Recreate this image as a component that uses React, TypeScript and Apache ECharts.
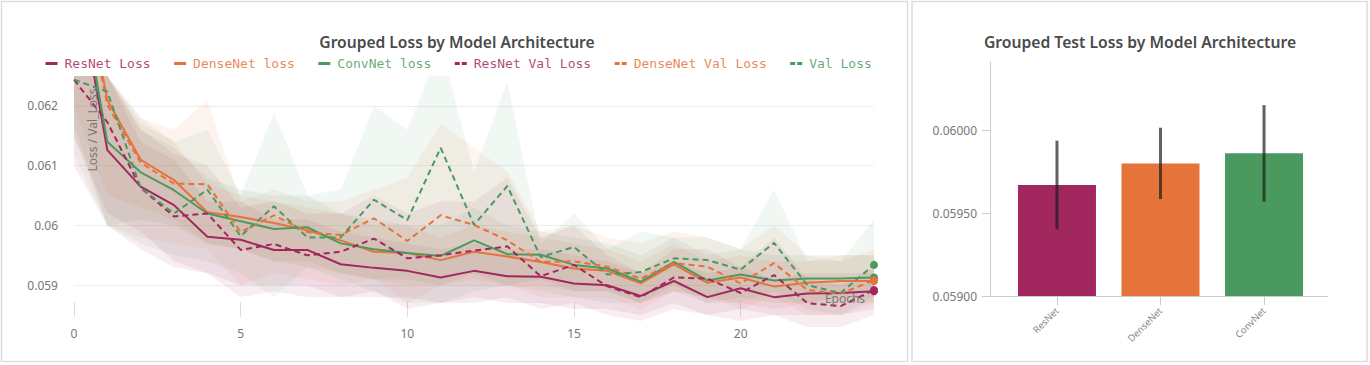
import React, { useEffect, useRef } from "react";
import * as echarts from "echarts";

const epochs = Array.from({ length: 25 }, (_, i) => String(i));

// line series (mean values)
const resnetLoss = [0.0644, 0.06126, 0.06065, 0.06034, 0.05981, 0.05976, 0.05959, 0.05959, 0.05935, 0.05929, 0.05924, 0.05913, 0.05924, 0.05915, 0.05914, 0.05903, 0.059, 0.05882, 0.05907, 0.0588, 0.05895, 0.0588, 0.05886, 0.05887, 0.0589];
const densenetLoss = [0.065, 0.0621, 0.0611, 0.06076, 0.06022, 0.06014, 0.06004, 0.05992, 0.05975, 0.05956, 0.05954, 0.05942, 0.05956, 0.05948, 0.05939, 0.05928, 0.05924, 0.05903, 0.05935, 0.05904, 0.05913, 0.05898, 0.05904, 0.05907, 0.05907];
const convnetLoss = [0.0646, 0.0614, 0.06089, 0.06059, 0.0602, 0.06007, 0.05994, 0.05997, 0.0597, 0.0596, 0.05954, 0.05949, 0.05975, 0.05952, 0.05951, 0.05934, 0.05928, 0.05906, 0.05939, 0.05908, 0.05918, 0.05908, 0.05911, 0.05911, 0.05913];
const resnetVal = [0.06244, 0.06173, 0.06063, 0.06015, 0.0602, 0.05959, 0.05969, 0.0595, 0.05956, 0.05978, 0.05945, 0.0595, 0.05958, 0.05965, 0.05915, 0.05934, 0.05898, 0.0588, 0.05913, 0.05911, 0.05887, 0.05917, 0.0587, 0.05865, 0.05892];
const densenetVal = [0.0648, 0.06202, 0.06105, 0.0607, 0.06069, 0.05989, 0.06017, 0.05989, 0.05984, 0.06012, 0.05974, 0.06017, 0.06001, 0.05975, 0.05939, 0.0594, 0.05931, 0.05911, 0.05937, 0.05931, 0.05903, 0.05937, 0.05892, 0.05886, 0.05908];
const convnetVal = [0.06244, 0.06224, 0.06063, 0.0602, 0.0606, 0.05982, 0.06032, 0.0598, 0.0598, 0.06043, 0.06009, 0.0613, 0.06001, 0.06066, 0.05947, 0.05964, 0.05918, 0.05922, 0.05945, 0.05942, 0.05926, 0.05971, 0.059, 0.05887, 0.05934];

// shaded min / max bands
const resnetLossLo = [0.0615, 0.0602, 0.0599, 0.0594, 0.0592, 0.059, 0.059, 0.059, 0.0588, 0.0588, 0.0588, 0.0587, 0.0588, 0.0587, 0.0587, 0.0586, 0.0586, 0.0585, 0.0587, 0.0585, 0.0586, 0.0585, 0.0585, 0.0585, 0.0586];
const resnetLossHi = [0.0625, 0.0625, 0.0614, 0.0611, 0.0604, 0.0604, 0.0601, 0.0601, 0.0599, 0.0598, 0.0597, 0.0596, 0.0597, 0.0596, 0.0596, 0.0595, 0.0594, 0.0592, 0.0594, 0.0592, 0.0593, 0.0591, 0.0592, 0.0592, 0.0592];
const densenetLossLo = [0.062, 0.0605, 0.0603, 0.0601, 0.0597, 0.0596, 0.0594, 0.0593, 0.0592, 0.0591, 0.059, 0.059, 0.0591, 0.059, 0.059, 0.0589, 0.0589, 0.0587, 0.0589, 0.0587, 0.0587, 0.0586, 0.0587, 0.0587, 0.0587];
const densenetLossHi = [0.0625, 0.0625, 0.0617, 0.0614, 0.0607, 0.0605, 0.0604, 0.0603, 0.0602, 0.06, 0.06, 0.0598, 0.06, 0.0599, 0.0598, 0.0597, 0.0596, 0.0594, 0.0597, 0.0594, 0.0595, 0.0594, 0.0594, 0.0595, 0.0595];
const convnetLossLo = [0.0617, 0.06, 0.0601, 0.06, 0.0597, 0.0596, 0.0594, 0.0594, 0.0592, 0.0591, 0.0591, 0.059, 0.0592, 0.059, 0.0591, 0.0589, 0.0589, 0.0587, 0.059, 0.0587, 0.0588, 0.0587, 0.0587, 0.0588, 0.0588];
const convnetLossHi = [0.0625, 0.0625, 0.0616, 0.0613, 0.0608, 0.0606, 0.0605, 0.0605, 0.0602, 0.0601, 0.06, 0.06, 0.0603, 0.06, 0.0599, 0.0598, 0.0597, 0.0595, 0.0598, 0.0595, 0.0596, 0.0595, 0.0595, 0.0595, 0.0595];
const resnetValLo = [0.061, 0.06, 0.0596, 0.0593, 0.0592, 0.0588, 0.0589, 0.0588, 0.0588, 0.0589, 0.0586, 0.0587, 0.0587, 0.0588, 0.0586, 0.0587, 0.0585, 0.0584, 0.0586, 0.0585, 0.0584, 0.0585, 0.0583, 0.0583, 0.0585];
const resnetValHi = [0.0625, 0.0625, 0.0616, 0.0612, 0.061, 0.0603, 0.0604, 0.0602, 0.0602, 0.0605, 0.0602, 0.0604, 0.0604, 0.0608, 0.0598, 0.06, 0.0595, 0.0592, 0.0596, 0.0596, 0.0593, 0.0598, 0.0591, 0.059, 0.0593];
const densenetValLo = [0.0615, 0.06, 0.0598, 0.0597, 0.0596, 0.059, 0.0592, 0.0591, 0.059, 0.0591, 0.0587, 0.059, 0.059, 0.059, 0.0588, 0.0588, 0.0588, 0.0586, 0.0589, 0.0588, 0.0586, 0.0588, 0.0585, 0.0585, 0.0587];
const densenetValHi = [0.0625, 0.0625, 0.0618, 0.0616, 0.0621, 0.0604, 0.0606, 0.0604, 0.0604, 0.0606, 0.0608, 0.0617, 0.0613, 0.0609, 0.0599, 0.06, 0.0598, 0.0597, 0.0599, 0.0598, 0.0596, 0.06, 0.0595, 0.0594, 0.0596];
const convnetValLo = [0.0612, 0.06, 0.0597, 0.0595, 0.0594, 0.0592, 0.0588, 0.0593, 0.0591, 0.0589, 0.0587, 0.0587, 0.0589, 0.059, 0.0589, 0.0588, 0.0587, 0.0587, 0.0589, 0.0588, 0.0587, 0.0589, 0.0586, 0.0585, 0.0588];
const convnetValHi = [0.0625, 0.0625, 0.0618, 0.0614, 0.0616, 0.0605, 0.0619, 0.0605, 0.0606, 0.062, 0.0616, 0.063, 0.0609, 0.0624, 0.0597, 0.0602, 0.0596, 0.0599, 0.0598, 0.0598, 0.0596, 0.0606, 0.0594, 0.0594, 0.0601];

// right chart
const models = ["ResNet", "DenseNet", "ConvNet"];
const testLoss = [0.059669, 0.059799, 0.05986];
const testLossLo = [0.059402, 0.059584, 0.059568];
const testLossHi = [0.059936, 0.060014, 0.06015];

const yTicksLeft = [0.059, 0.06, 0.061, 0.062];
const yTicksRight = [0.059, 0.0595, 0.06];

const PURPLE = "#a2275f";
const ORANGE = "#e5733a";
const GREEN = "#4a9a5f";
const BAR_COLORS = [PURPLE, ORANGE, GREEN];

const lineDefs = [
  { name: "ResNet Loss", data: resnetLoss, lo: resnetLossLo, hi: resnetLossHi, color: PURPLE, dashed: false, band: "rgba(162,39,95,0.09)" },
  { name: "DenseNet loss", data: densenetLoss, lo: densenetLossLo, hi: densenetLossHi, color: ORANGE, dashed: false, band: "rgba(229,115,58,0.09)" },
  { name: "ConvNet loss", data: convnetLoss, lo: convnetLossLo, hi: convnetLossHi, color: GREEN, dashed: false, band: "rgba(74,154,95,0.09)" },
  { name: "ResNet Val Loss", data: resnetVal, lo: resnetValLo, hi: resnetValHi, color: PURPLE, dashed: true, band: "rgba(162,39,95,0.08)" },
  { name: "DenseNet Val Loss", data: densenetVal, lo: densenetValLo, hi: densenetValHi, color: ORANGE, dashed: true, band: "rgba(229,115,58,0.08)" },
  { name: "Val Loss", data: convnetVal, lo: convnetValLo, hi: convnetValHi, color: GREEN, dashed: true, band: "rgba(74,154,95,0.08)" },
];

export default function App() {
  const ref = useRef<HTMLDivElement>(null);
  useEffect(() => {
    document.body.style.margin = "0";
    const chart = echarts.init(ref.current!, null, { renderer: "svg" });

    const bandSeries: any[] = [];
    lineDefs.forEach((d, k) => {
      bandSeries.push({
        type: "line",
        name: "band_lo_" + k,
        data: d.lo,
        stack: "band" + k,
        symbol: "none",
        silent: true,
        lineStyle: { opacity: 0 },
        xAxisIndex: 0,
        yAxisIndex: 0,
        z: 1,
      });
      bandSeries.push({
        type: "line",
        name: "band_hi_" + k,
        data: d.hi.map((h, i) => h - d.lo[i]),
        stack: "band" + k,
        symbol: "none",
        silent: true,
        lineStyle: { opacity: 0 },
        areaStyle: { color: d.band, opacity: 1 },
        xAxisIndex: 0,
        yAxisIndex: 0,
        z: 1,
      });
    });

    const lineSeries = lineDefs.map((d) => ({
      type: "line",
      name: d.name,
      data: d.data,
      xAxisIndex: 0,
      yAxisIndex: 0,
      symbol: "circle",
      showAllSymbol: true,
      symbolSize: (_v: any, p: any) => (p.dataIndex === epochs.length - 1 ? 8 : 0),
      lineStyle: { color: d.color, width: 2, type: d.dashed ? [6, 4] : "solid" },
      itemStyle: { color: d.color },
      z: 5,
    }));

    const option: any = {
      animation: false,
      backgroundColor: "#fff",
      legend: {
        left: 44,
        top: 57,
        padding: 0,
        itemWidth: 12,
        itemHeight: 3,
        itemGap: 22,
        selectedMode: false,
        textStyle: { fontFamily: "DejaVu Sans Mono", fontSize: 13, padding: [0, 0, 0, 2] },
        data: lineDefs.map((d) => ({
          name: d.name,
          textStyle: { color: d.color, opacity: 0.85 },
          itemStyle: { opacity: 0 },
          lineStyle: { color: d.color, width: 3, type: d.dashed ? [5, 2] : "solid" },
        })),
      },
      grid: [
        { left: 74, right: 1370 - 874, top: 77, height: 253, containLabel: false },
        { left: 990, right: 1370 - 1328, top: 62, height: 234, containLabel: false },
      ],
      xAxis: [
        {
          type: "category",
          gridIndex: 0,
          data: epochs,
          boundaryGap: false,
          offset: -13,
          axisLine: { show: false },
          axisTick: { show: true, inside: true, length: 15, interval: 4, lineStyle: { color: "#ddd" } },
          axisLabel: { interval: 4, margin: 10, color: "#777", fontSize: 12, fontFamily: "Noto Sans" },
          splitLine: { show: false },
        },
        {
          type: "value",
          gridIndex: 1,
          min: -0.647,
          max: 2.618,
          axisLine: { show: true, onZero: false, lineStyle: { color: "#ccc" } },
          axisTick: { show: true, length: 9, customValues: [0, 1, 2], lineStyle: { color: "#ccc" } },
          axisLabel: {
            customValues: [0, 1, 2],
            formatter: (v: number) => models[Math.round(v)] ?? "",
            rotate: 45,
            fontSize: 9.5,
            color: "#888",
            margin: 13,
            fontFamily: "Noto Sans",
          },
          splitLine: { show: false },
        },
      ],
      yAxis: [
        {
          type: "value",
          gridIndex: 0,
          min: 0.05825,
          max: 0.062485,
          axisLine: { show: false, onZero: false },
          axisTick: { show: false, customValues: yTicksLeft },
          axisLabel: {
            customValues: yTicksLeft,
            formatter: (v: number) => String(+v.toFixed(4)),
            color: "#777",
            fontSize: 12,
            margin: 16,
            fontFamily: "Noto Sans",
          },
          splitLine: { show: true, lineStyle: { color: "#eee", width: 1 } },
        },
        {
          type: "value",
          gridIndex: 1,
          min: 0.059,
          max: 0.06041,
          axisLine: { show: true, onZero: false, lineStyle: { color: "#ccc" } },
          axisTick: { show: true, length: 8, customValues: yTicksRight, lineStyle: { color: "#ccc" } },
          axisLabel: {
            customValues: yTicksRight,
            formatter: (v: number) => v.toFixed(5),
            color: "#777",
            fontSize: 12,
            margin: 13,
            fontFamily: "Noto Sans",
          },
          splitLine: { show: false },
        },
      ],
      series: [
        ...bandSeries,
        ...lineSeries,
        {
          type: "bar",
          name: "test",
          xAxisIndex: 1,
          yAxisIndex: 1,
          barWidth: 78,
          data: models.map((m, i) => ({ value: [i, testLoss[i]], itemStyle: { color: BAR_COLORS[i] } })),
          z: 2,
        },
        {
          type: "custom",
          name: "err",
          xAxisIndex: 1,
          yAxisIndex: 1,
          encode: { x: 0, y: [1, 2] },
          data: models.map((m, i) => [i, testLossLo[i], testLossHi[i]]),
          renderItem: (_p: any, api: any) => {
            const x = api.value(0);
            const a = api.coord([x, api.value(1)]);
            const b = api.coord([x, api.value(2)]);
            return {
              type: "line",
              shape: { x1: a[0], y1: a[1], x2: b[0], y2: b[1] },
              style: { stroke: "rgba(30,30,30,0.7)", lineWidth: 3 },
            };
          },
          z: 3,
        },
      ],
      graphic: [
        { type: "rect", shape: { x: 1.5, y: 1.5, width: 906, height: 360 }, style: { fill: "none", stroke: "#ddd", lineWidth: 1.5 }, silent: true, z: -10 },
        { type: "rect", shape: { x: 912, y: 1.5, width: 455, height: 360 }, style: { fill: "none", stroke: "#ddd", lineWidth: 1.5 }, silent: true, z: -10 },
        {
          type: "text",
          x: 457,
          y: 42,
          style: { text: "Grouped Loss by Model Architecture", align: "center", verticalAlign: "middle", font: "600 15.6px 'Noto Sans'", fill: "#4a4a4a" },
          silent: true,
        },
        {
          type: "text",
          x: 1140,
          y: 42,
          style: { text: "Grouped Test Loss by Model Architecture", align: "center", verticalAlign: "middle", font: "600 15.7px 'Noto Sans'", fill: "#4a4a4a" },
          silent: true,
        },
        {
          type: "text",
          x: 92,
          y: 130,
          rotation: Math.PI / 2,
          style: { text: "Loss / Val_Loss", align: "center", verticalAlign: "middle", font: "12px 'Noto Sans'", fill: "#777" },
          silent: true,
          z: 10,
        },
        {
          type: "text",
          x: 845,
          y: 298,
          style: { text: "Epochs", align: "center", verticalAlign: "middle", font: "12px 'Noto Sans'", fill: "#777" },
          silent: true,
          z: 10,
        },
      ],
    };
    chart.setOption(option);
    return () => chart.dispose();
  }, []);
  return <div ref={ref} style={{ width: 1370, height: 365 }} />;
}
